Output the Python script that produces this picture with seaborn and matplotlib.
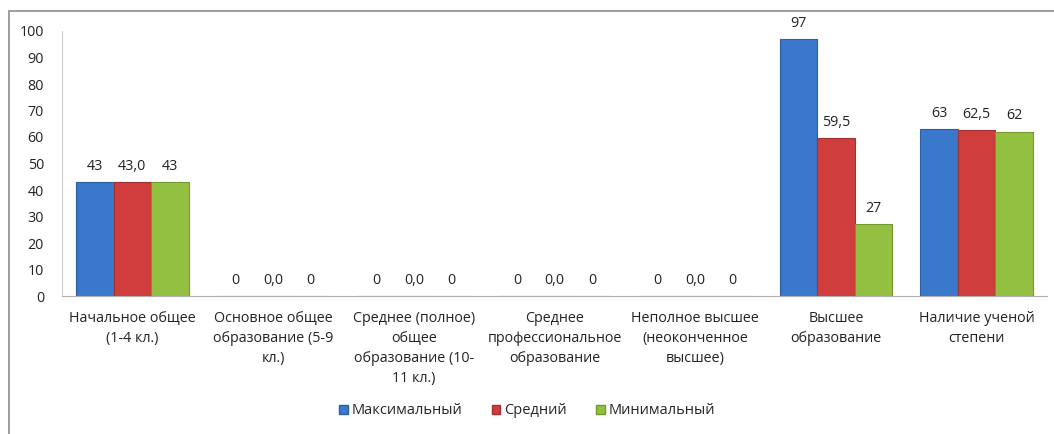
import matplotlib
matplotlib.use("Agg")
import matplotlib.pyplot as plt
import matplotlib.patches as mpatches
import seaborn as sns
import pandas as pd

# data
categories = [
    "Начальное общее\n(1-4 кл.)",
    "Основное общее\nобразование (5-9\nкл.)",
    "Среднее (полное)\nобщее\nобразование (10-\n11 кл.)",
    "Среднее\nпрофессиональное\nобразование",
    "Неполное высшее\n(неоконченное\nвысшее)",
    "Высшее\nобразование",
    "Наличие ученой\nстепени",
]
series_names = ["Максимальный", "Средний", "Минимальный"]
max_vals = [43, 0, 0, 0, 0, 97, 63]
avg_vals = [43.0, 0.0, 0.0, 0.0, 0.0, 59.5, 62.5]
min_vals = [43, 0, 0, 0, 0, 27, 62]
y_ticks = [0, 10, 20, 30, 40, 50, 60, 70, 80, 90, 100]

colors = ["#3a78cc", "#cf3e3d", "#94c042"]
edges = ["#2c5f9f", "#a32f2f", "#74982f"]

rows = []
for name, vals in zip(series_names, [max_vals, avg_vals, min_vals]):
    for c, v in zip(categories, vals):
        rows.append({"cat": c, "series": name, "value": v})
df = pd.DataFrame(rows)

sns.set_style("white")
plt.rcParams["font.family"] = ["Open Sans", "DejaVu Sans"]
FS = 10.3

fig = plt.figure(figsize=(10.54, 4.34), dpi=100)
ax = fig.add_axes([62 / 1054, 1 - 296 / 434, (1047 - 62) / 1054, (296 - 31) / 434])

sns.barplot(data=df, x="cat", y="value", hue="series", palette=colors,
            width=0.8, ax=ax, legend=False, saturation=1)

for i, cont in enumerate(ax.containers):
    for p in cont.patches:
        p.set_edgecolor(edges[i])
        p.set_linewidth(0.8)
    if i == 1:
        labels = [f"{v:.1f}".replace(".", ",") for v in avg_vals]
    else:
        labels = [f"{v:g}".replace(".", ",") for v in (max_vals if i == 0 else min_vals)]
    ax.bar_label(cont, labels=labels, padding=6, fontsize=FS, color="#222222")

ax.set_ylim(0, 100)
ax.set_yticks(y_ticks)
ax.set_xlim(-0.5, len(categories) - 0.5)
ax.set_xlabel("")
ax.set_ylabel("")
ax.tick_params(axis="both", length=0, labelsize=FS, colors="#222222")
ax.tick_params(axis="y", pad=13)
ax.tick_params(axis="x", pad=11)
for lab in ax.get_yticklabels():
    lab.set_horizontalalignment("right")
for lab in ax.get_xticklabels():
    lab.set_linespacing(1.45)
sns.despine(ax=ax, top=True, right=True)
ax.spines["left"].set_color("#d0d0d0")
ax.spines["bottom"].set_color("#b0b0b0")

# outer chart frame
frame = mpatches.Rectangle((9 / 1054, -0.1), 1.2, 1 - 11 / 434 + 0.1,
                           transform=fig.transFigure, fill=False,
                           edgecolor="#8c8c8c", linewidth=1.2)
fig.patches.append(frame)

handles = [mpatches.Patch(facecolor=c, edgecolor=e, label=n)
           for c, e, n in zip(colors, edges, series_names)]
fig.legend(handles=handles, loc="center", bbox_to_anchor=(0.5, 1 - 411 / 434),
           ncol=3, frameon=False, fontsize=10.5, handlelength=0.6, handleheight=0.6,
           handletextpad=0.25, columnspacing=2.0)

fig.savefig("out.png", dpi=100)
